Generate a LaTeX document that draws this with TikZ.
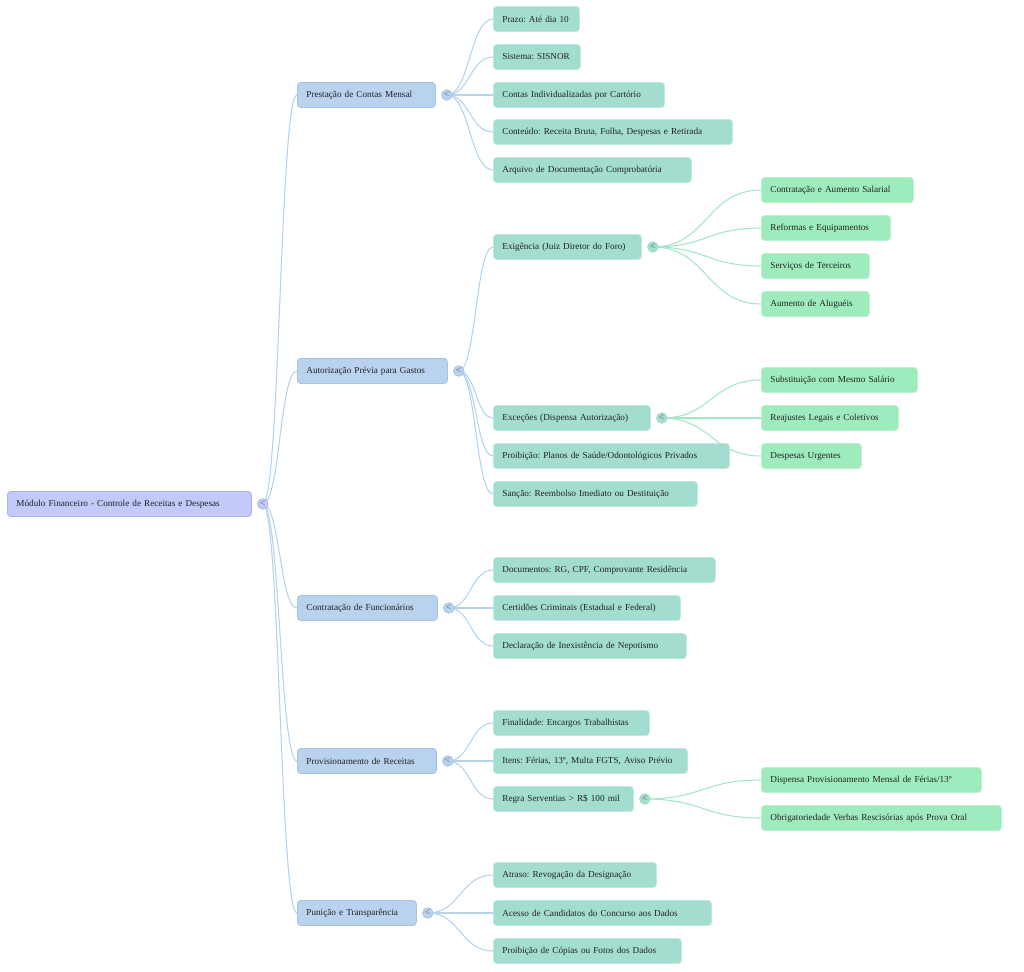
\documentclass[tikz,border=0pt]{standalone}
\usepackage{fontspec}
\setmainfont{Liberation Serif}
\usetikzlibrary{backgrounds,calc}
\definecolor{txt}{HTML}{222222}
\definecolor{rootfill}{HTML}{C3C9F8}
\definecolor{rootdraw}{HTML}{A9B3EE}
\definecolor{lafill}{HTML}{B9D2EE}
\definecolor{ladraw}{HTML}{A3C2E6}
\definecolor{lbfill}{HTML}{A3DDD0}
\definecolor{lbdraw}{HTML}{BDE9DE}
\definecolor{lcfill}{HTML}{9EECBD}
\definecolor{lcdraw}{HTML}{B8F2CF}
\definecolor{edgeblue}{HTML}{B5D3EC}
\definecolor{edgegreen}{HTML}{A6E6C8}
\newcommand\tx[1]{\mbox{#1}}
\begin{document}
\begin{tikzpicture}[x=0.75pt,y=-0.75pt,
  box/.style={anchor=west, minimum height=18.75pt, inner xsep=6.75pt, inner ysep=0pt,
    rounded corners=2.5pt, align=left, text=txt, line width=0.6pt,
    execute at begin node={\frenchspacing},
    font=\fontsize{6.9}{8}\selectfont, text width={(#1-18)*0.75pt}},
  rootbox/.style={box=#1, fill=rootfill, draw=rootdraw},
  lone/.style={box=#1, fill=lafill, draw=ladraw},
  ltwo/.style={box=#1, fill=lbfill, draw=lbdraw},
  lthree/.style={box=#1, fill=lcfill, draw=lcdraw},
  circ/.style={circle, minimum size=8pt, inner sep=0pt, line width=0.5pt,
    font=\fontsize{7.5}{7.5}\selectfont, text=black!60},
  rootcirc/.style={circ, fill=rootfill, draw=rootdraw},
  onecirc/.style={circ, fill=lafill, draw=ladraw},
  twocirc/.style={circ, fill=lbfill, draw=lbfill},
  eb/.style={draw=edgeblue, line width=0.8pt},
  eg/.style={draw=edgegreen, line width=0.8pt},
  hc/.style={to path={let \p1=(\tikztostart), \p2=(\tikztotarget) in
     .. controls ({(\x1+\x2)/2},\y1) and ({(\x1+\x2)/2},\y2) .. (\tikztotarget)}}
]
\useasboundingbox (0,0) rectangle (1024,971);

% root
\node[rootbox=244] (r) at (7,504) {\tx{Módulo Financeiro - Controle de Receitas e Despesas}};
\node[rootcirc] (rc) at ([xshift=8.25pt]r.east) {<};

% level 1
\node[lone=138] (p1) at (297,95) {\tx{Prestação de Contas Mensal}};
\node[lone=150] (p2) at (297,371) {\tx{Autorização Prévia para Gastos}};
\node[lone=140] (p3) at (297,608) {\tx{Contratação de Funcionários}};
\node[lone=139] (p4) at (297,761) {\tx{Provisionamento de Receitas}};
\node[lone=119] (p5) at (297,913) {\tx{Punição e Transparência}};
\foreach \n in {p1,p2,p3,p4,p5}{\node[onecirc] (\n c) at ([xshift=8.25pt]\n.east) {<};}

% level 2
\node[ltwo=86]  (a1) at (493,19)  {\tx{Prazo: Até dia 10}};
\node[ltwo=87]  (a2) at (493,57)  {\tx{Sistema: SISNOR}};
\node[ltwo=171] (a3) at (493,95)  {\tx{Contas Individualizadas por Cartório}};
\node[ltwo=239] (a4) at (493,132) {\tx{Conteúdo: Receita Bruta, Folha, Despesas e Retirada}};
\node[ltwo=198] (a5) at (493,170) {\tx{Arquivo de Documentação Comprobatória}};
\node[ltwo=148] (b1) at (493,247) {\tx{Exigência (Juiz Diretor do Foro)}};
\node[ltwo=157] (b2) at (493,418) {\tx{Exceções (Dispensa Autorização)}};
\node[ltwo=236] (b3) at (493,456) {\tx{Proibição: Planos de Saúde/Odontológicos Privados}};
\node[ltwo=204] (b4) at (493,494) {\tx{Sanção: Reembolso Imediato ou Destituição}};
\node[ltwo=222] (c1) at (493,570) {\tx{Documentos: RG, CPF, Comprovante Residência}};
\node[ltwo=187] (c2) at (493,608) {\tx{Certidões Criminais (Estadual e Federal)}};
\node[ltwo=193] (c3) at (493,646) {\tx{Declaração de Inexistência de Nepotismo}};
\node[ltwo=156] (d1) at (493,723) {\tx{Finalidade: Encargos Trabalhistas}};
\node[ltwo=194] (d2) at (493,761) {\tx{Itens: Férias, 13º, Multa FGTS, Aviso Prévio}};
\node[ltwo=140] (d3) at (493,799) {\tx{Regra Serventias > R\$ 100 mil}};
\node[ltwo=163] (e1) at (493,875) {\tx{Atraso: Revogação da Designação}};
\node[ltwo=218] (e2) at (493,913) {\tx{Acesso de Candidatos do Concurso aos Dados}};
\node[ltwo=188] (e3) at (493,951) {\tx{Proibição de Cópias ou Fotos dos Dados}};
\foreach \n in {b1,b2,d3}{\node[twocirc] (\n c) at ([xshift=8.25pt]\n.east) {<};}

% level 3
\node[lthree=152] (f1) at (761,190) {\tx{Contratação e Aumento Salarial}};
\node[lthree=129] (f2) at (761,228) {\tx{Reformas e Equipamentos}};
\node[lthree=108] (f3) at (761,266) {\tx{Serviços de Terceiros}};
\node[lthree=108] (f4) at (761,304) {\tx{Aumento de Aluguéis}};
\node[lthree=156] (g1) at (761,380) {\tx{Substituição com Mesmo Salário}};
\node[lthree=137] (g2) at (761,418) {\tx{Reajustes Legais e Coletivos}};
\node[lthree=100] (g3) at (761,456) {\tx{Despesas Urgentes}};
\node[lthree=220] (h1) at (761,780) {\tx{Dispensa Provisionamento Mensal de Férias/13º}};
\node[lthree=240] (h2) at (761,818) {\tx{Obrigatoriedade Verbas Rescisórias após Prova Oral}};

\begin{scope}[on background layer]
  \foreach \t in {p1,p2,p3,p4,p5}{\draw[eb] (rc.center) to[hc] (\t.west);}
  \foreach \t in {a1,a2,a3,a4,a5}{\draw[eb] (p1c.center) to[hc] (\t.west);}
  \foreach \t in {b1,b2,b3,b4}{\draw[eb] (p2c.center) to[hc] (\t.west);}
  \foreach \t in {c1,c2,c3}{\draw[eb] (p3c.center) to[hc] (\t.west);}
  \foreach \t in {d1,d2,d3}{\draw[eb] (p4c.center) to[hc] (\t.west);}
  \foreach \t in {e1,e2,e3}{\draw[eb] (p5c.center) to[hc] (\t.west);}
  \foreach \t in {f1,f2,f3,f4}{\draw[eg] (b1c.center) to[hc] (\t.west);}
  \foreach \t in {g1,g2,g3}{\draw[eg] (b2c.center) to[hc] (\t.west);}
  \foreach \t in {h1,h2}{\draw[eg] (d3c.center) to[hc] (\t.west);}
\end{scope}
\end{tikzpicture}
\end{document}
